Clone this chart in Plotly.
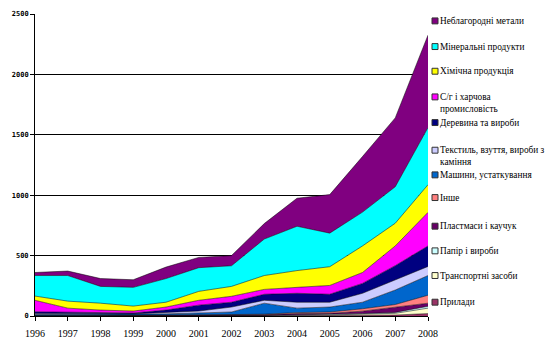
import plotly.graph_objects as go

# Export structure by product group, stacked from the bottom layer up
years = [1996, 1997, 1998, 1999, 2000, 2001, 2002, 2003, 2004, 2005, 2006, 2007, 2008]

prylady = [1, 1, 1, 1, 1, 2, 2, 2, 3, 4, 6, 8, 20]
transport = [1, 1, 1, 1, 2, 2, 3, 3, 4, 5, 8, 14, 45]
papir = [1, 1, 1, 1, 1, 1, 1, 2, 3, 3, 6, 8, 15]
plastmasy = [1, 1, 1, 1, 2, 3, 3, 3, 10, 10, 20, 40, 26]
inshe = [1, 1, 1, 1, 2, 2, 3, 5, 8, 11, 20, 25, 66]
mashyny = [7, 7, 7, 7, 10, 15, 21, 91, 37, 41, 54, 120, 163]
tekstyl = [8, 8, 6, 6, 12, 16, 41, 24, 49, 40, 74, 85, 75]
derevyna = [15, 13, 10, 7, 19, 49, 40, 50, 74, 66, 82, 117, 170]
sg_kharch = [95, 32, 21, 16, 25, 40, 49, 40, 49, 73, 90, 163, 278]
khimichna = [35, 58, 57, 41, 40, 74, 82, 115, 139, 155, 220, 188, 229]
mineralni = [170, 212, 139, 155, 196, 196, 171, 302, 367, 278, 280, 302, 473]
neblahorodni = [25, 37, 65, 63, 95, 85, 84, 128, 232, 319, 460, 570, 765]

series_names = [
    "Прилади",
    "Транспортні засоби",
    "Папір і вироби",
    "Пластмаси і каучук",
    "Інше",
    "Машини, устаткування",
    "Текстиль, взуття, вироби з<br>каміння",
    "Деревина та вироби",
    "С/г і харчова<br>промисловість",
    "Хімічна продукція",
    "Мінеральні продукти",
    "Неблагородні метали",
]
series_values = [prylady, transport, papir, plastmasy, inshe, mashyny,
                 tekstyl, derevyna, sg_kharch, khimichna, mineralni, neblahorodni]
series_colors = ["#993366", "#FFFFCC", "#CCFFFF", "#660066", "#FF8080", "#0066CC",
                 "#CCCCFF", "#000080", "#FF00FF", "#FFFF00", "#00FFFF", "#800080"]

y_ticks = [0, 500, 1000, 1500, 2000, 2500]

W, H = 547, 349
L, R, T, B = 35, 428, 10, 316  # plot area in pixels

fig = go.Figure()
for name, vals, col in zip(series_names, series_values, series_colors):
    fig.add_trace(go.Scatter(
        x=years, y=vals, name=name, mode="lines",
        stackgroup="one", fillcolor=col,
        line=dict(color="rgba(0,0,0,0.85)", width=0.6),
        showlegend=False, hoverinfo="x+y+name",
    ))

# Legend drawn by hand: square swatch and serif label per series, top layer first
legend_y = [17, 43, 68, 94, 120, 148, 173, 196, 225, 250, 275, 302]
shapes = []
annotations = []
for i, (name, col) in enumerate(zip(series_names[::-1], series_colors[::-1])):
    cy = legend_y[i]
    x0 = (432 - L) / (R - L)
    x1 = (438 - L) / (R - L)
    y0 = (B - (cy + 3)) / (B - T)
    y1 = (B - (cy - 3)) / (B - T)
    shapes.append(dict(type="rect", xref="paper", yref="paper",
                       x0=x0, x1=x1, y0=y0, y1=y1,
                       fillcolor=col, line=dict(color="#333333", width=1)))
    annotations.append(dict(
        xref="paper", yref="paper",
        x=(438 - L) / (R - L), y=(B - (cy - 7)) / (B - T),
        xanchor="left", yanchor="top", align="left",
        text=name, showarrow=False,
        font=dict(family="Liberation Serif", size=9.3, color="#000000"),
    ))

fig.update_layout(
    width=W, height=H,
    margin=dict(l=L, r=W - R, t=T, b=H - B),
    paper_bgcolor="white", plot_bgcolor="white",
    shapes=shapes, annotations=annotations,
    showlegend=False,
    xaxis=dict(
        range=[years[0], years[-1]], tickmode="array", tickvals=years,
        ticktext=[str(y) for y in years],
        showgrid=False, zeroline=False,
        showline=True, linecolor="black", linewidth=1,
        ticks="outside", ticklen=4, tickcolor="black",
        ticklabelstandoff=4,
        tickfont=dict(family="Liberation Serif", size=10, color="black"),
    ),
    yaxis=dict(
        range=[0, 2500], tickmode="array", tickvals=y_ticks,
        ticktext=[str(v) for v in y_ticks],
        showgrid=True, gridcolor="black", gridwidth=1,
        zeroline=False,
        showline=True, linecolor="black", linewidth=1,
        ticks="outside", ticklen=4, tickcolor="black",
        tickfont=dict(family="DejaVu Sans Mono", size=7, color="black",
                      weight="bold"),
    ),
)

fig.write_html("out.html")
